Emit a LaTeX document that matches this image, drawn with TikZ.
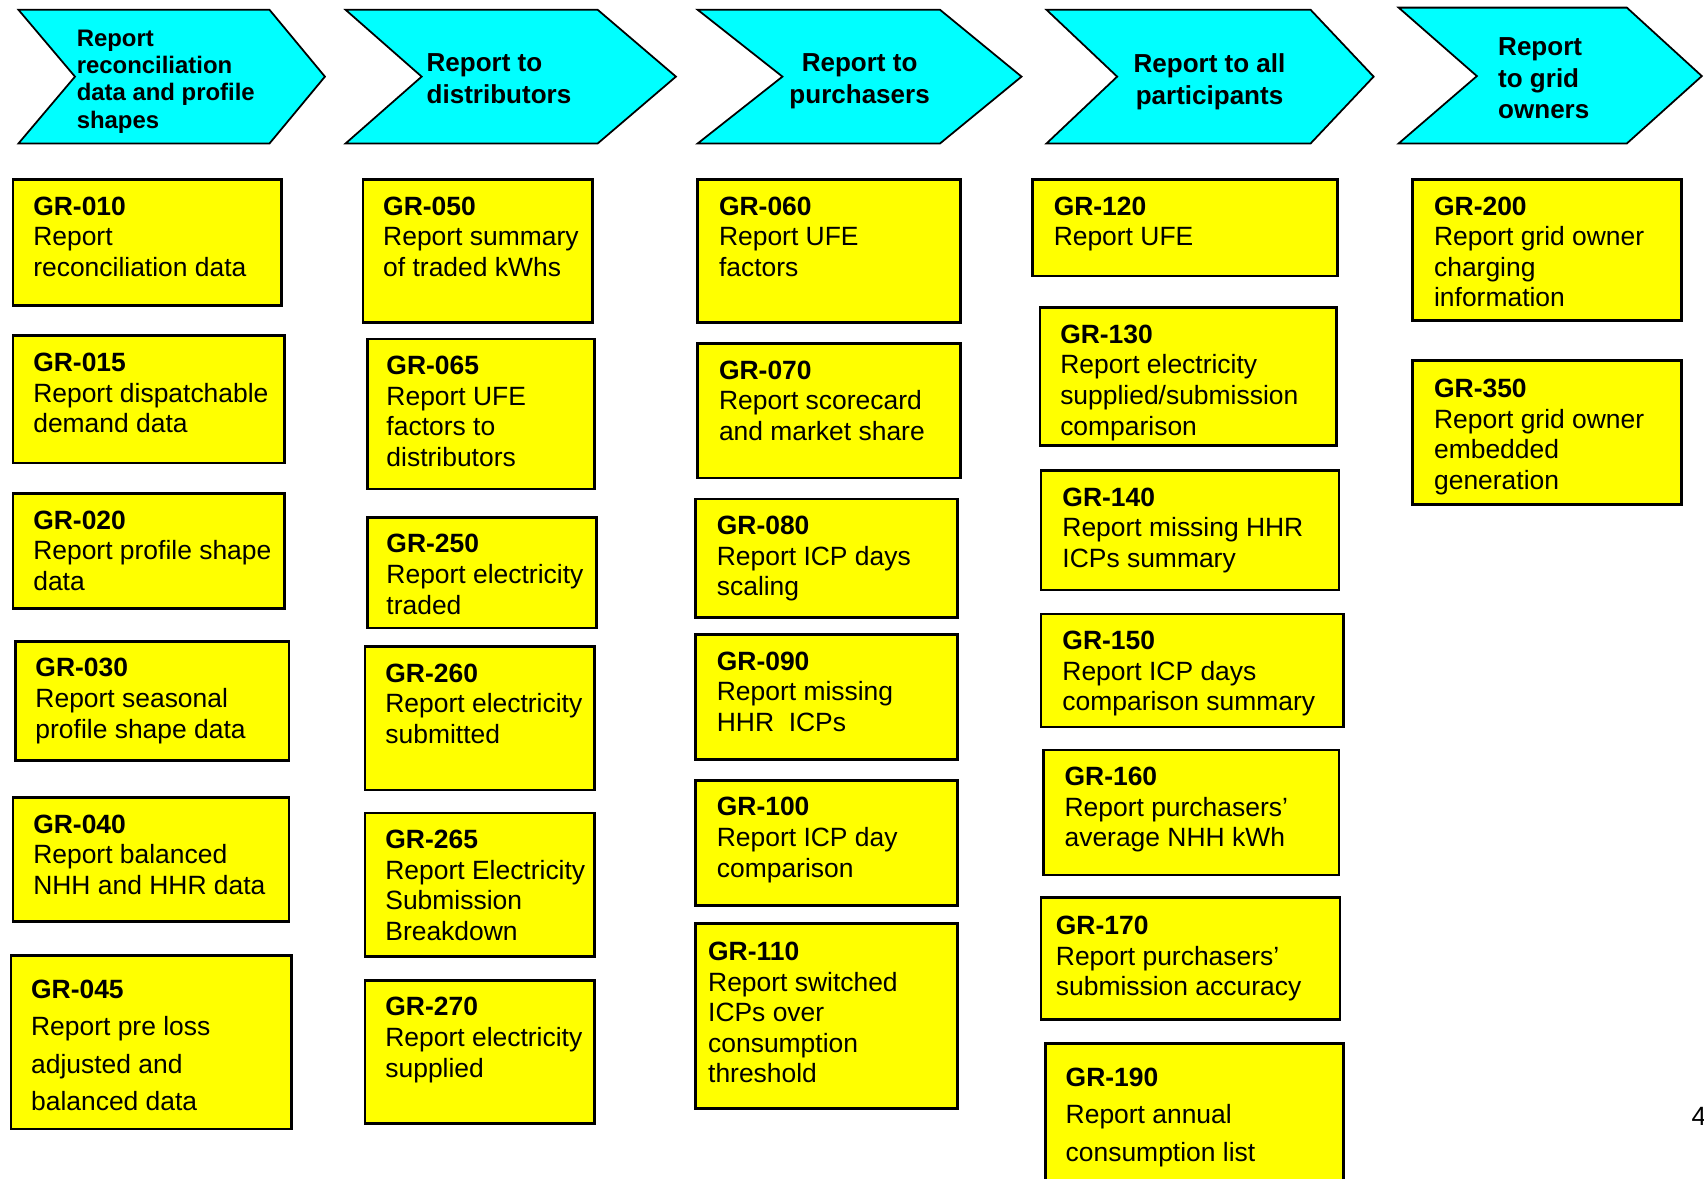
\documentclass[tikz,border=0pt]{standalone}
\usepackage{fontspec}
\setmainfont{Liberation Sans}
\definecolor{gryellow}{HTML}{FFFF00}
\definecolor{stagecyan}{HTML}{00FFFF}

\begin{document}
\begin{tikzpicture}[x=0.010867cm, y=-0.010867cm,
  stage/.style={draw=black, line width=0.5pt, fill=stagecyan},
  stagetext/.style={font=\fontsize{7.4}{9}\selectfont\bfseries, inner sep=0pt, anchor=north west, yshift=5.3pt, align=left},
  stagemid/.style={stagetext, anchor=north, align=center},
  grbox/.style={draw=black, line width=0.75pt, fill=gryellow},
  grtext/.style={font=\fontsize{7.52}{8.7}\selectfont, inner sep=0pt, anchor=north west, yshift=5.5pt, align=left},
  grwide/.style={grtext, font=\fontsize{7.52}{10.6}\selectfont}]
  \useasboundingbox (0,0) rectangle (1568,1084);

  % Etapas de reporte (flechas)
  \draw[stage] (17,9) -- (248,9) -- (299,70.5) -- (248,132) -- (17,132) -- (69,70.5) -- cycle;
  \node[stagetext, font=\fontsize{6.8}{7.8}\selectfont\bfseries, yshift=-0.4pt] (stage1) at (70,42.5) {Report\\reconciliation\\data and profile\\shapes};
  \draw[stage] (318,9) -- (550,9) -- (622,70.5) -- (550,132) -- (318,132) -- (388,70.5) -- cycle;
  \node[stagetext] (stage2) at (392,66) {Report to\\distributors};
  \draw[stage] (642,9) -- (865,9) -- (940,70.5) -- (865,132) -- (642,132) -- (720,70.5) -- cycle;
  \node[stagemid] (stage3) at (791,66) {Report to\\purchasers};
  \draw[stage] (963,9) -- (1206,9) -- (1264,70.5) -- (1206,132) -- (963,132) -- (1028,70.5) -- cycle;
  \node[stagemid] (stage4) at (1113,66) {Report to all\\participants};
  \draw[stage] (1287,7) -- (1497,7) -- (1566,70) -- (1497,132) -- (1287,132) -- (1359,70) -- cycle;
  \node[stagetext] (stage5) at (1378,51) {Report\\to grid\\owners};

  % Columna 1
  \draw[grbox] (12,165) rectangle (259,281);
  \node[grtext] (gr010) at (30,198) {\textbf{GR-010}\\Report\\reconciliation data};
  \draw[grbox] (12,309) rectangle (262,426);
  \node[grtext] (gr015) at (30,342) {\textbf{GR-015}\\Report dispatchable\\demand data};
  \draw[grbox] (12,454) rectangle (262,560);
  \node[grtext] (gr020) at (30,487) {\textbf{GR-020}\\Report profile shape\\data};
  \draw[grbox] (14,590) rectangle (266,700);
  \node[grtext] (gr030) at (32,623) {\textbf{GR-030}\\Report seasonal\\profile shape data};
  \draw[grbox] (12,734) rectangle (266,848);
  \node[grtext] (gr040) at (30,767) {\textbf{GR-040}\\Report balanced\\NHH and HHR data};
  \draw[grbox] (10,879) rectangle (268,1039);
  \node[grwide] (gr045) at (28,919) {\textbf{GR-045}\\Report pre loss\\adjusted and\\balanced data};

  % Columna 2
  \draw[grbox] (334,165) rectangle (545,297);
  \node[grtext] (gr050) at (352,198) {\textbf{GR-050}\\Report summary\\of traded kWhs};
  \draw[grbox] (338,312) rectangle (547,450);
  \node[grtext] (gr065) at (355,345) {\textbf{GR-065}\\Report UFE\\factors to\\distributors};
  \draw[grbox] (338,476) rectangle (549,578);
  \node[grtext] (gr250) at (355,509) {\textbf{GR-250}\\Report electricity\\traded};
  \draw[grbox] (336,595) rectangle (547,727);
  \node[grtext] (gr260) at (354,628) {\textbf{GR-260}\\Report electricity\\submitted};
  \draw[grbox] (336,748) rectangle (547,880);
  \node[grtext] (gr265) at (354,781) {\textbf{GR-265}\\Report Electricity\\Submission\\Breakdown};
  \draw[grbox] (336,902) rectangle (547,1034);
  \node[grtext] (gr270) at (354,935) {\textbf{GR-270}\\Report electricity\\supplied};

  % Columna 3
  \draw[grbox] (642,165) rectangle (884,297);
  \node[grtext] (gr060) at (661,198) {\textbf{GR-060}\\Report UFE\\factors};
  \draw[grbox] (642,316) rectangle (884,440);
  \node[grtext] (gr070) at (661,349) {\textbf{GR-070}\\Report scorecard\\and market share};
  \draw[grbox] (640,459) rectangle (881,568);
  \node[grtext] (gr080) at (659,492) {\textbf{GR-080}\\Report ICP days\\scaling};
  \draw[grbox] (640,584) rectangle (881,699);
  \node[grtext] (gr090) at (659,617) {\textbf{GR-090}\\Report missing\\HHR\ \ ICPs};
  \draw[grbox] (640,718) rectangle (881,833);
  \node[grtext] (gr100) at (659,751) {\textbf{GR-100}\\Report ICP day\\comparison};
  \draw[grbox] (640,850) rectangle (881,1020);
  \node[grtext] (gr110) at (651,884) {\textbf{GR-110}\\Report switched\\ICPs over\\consumption\\threshold};

  % Columna 4
  \draw[grbox] (950,165) rectangle (1231,254);
  \node[grtext] (gr120) at (969,198) {\textbf{GR-120}\\Report UFE};
  \draw[grbox] (957,283) rectangle (1230,410);
  \node[grtext] (gr130) at (975,316) {\textbf{GR-130}\\Report electricity\\supplied/submission\\comparison};
  \draw[grbox] (958,433) rectangle (1232,543);
  \node[grtext] (gr140) at (977,466) {\textbf{GR-140}\\Report missing HHR\\ICPs summary};
  \draw[grbox] (958,565) rectangle (1236,669);
  \node[grtext] (gr150) at (977,598) {\textbf{GR-150}\\Report ICP days\\comparison summary};
  \draw[grbox] (960,690) rectangle (1232,805);
  \node[grtext] (gr160) at (979,723) {\textbf{GR-160}\\Report purchasers’\\average NHH kWh};
  \draw[grbox] (958,826) rectangle (1233,938);
  \node[grtext] (gr170) at (971,860) {\textbf{GR-170}\\Report purchasers’\\submission accuracy};
  \draw[grbox] (962,960) rectangle (1236,1100);
  \node[grwide] (gr190) at (980,1000) {\textbf{GR-190}\\Report annual\\consumption list};

  % Columna 5
  \draw[grbox] (1300,165) rectangle (1547,295);
  \node[grtext] (gr200) at (1319,198) {\textbf{GR-200}\\Report grid owner\\charging\\information};
  \draw[grbox] (1300,332) rectangle (1547,464);
  \node[grtext] (gr350) at (1319,366) {\textbf{GR-350}\\Report grid owner\\embedded\\generation};

  % Numero de pagina
  \node[grtext] (pagenum) at (1556,1036) {4};
\end{tikzpicture}
\end{document}
